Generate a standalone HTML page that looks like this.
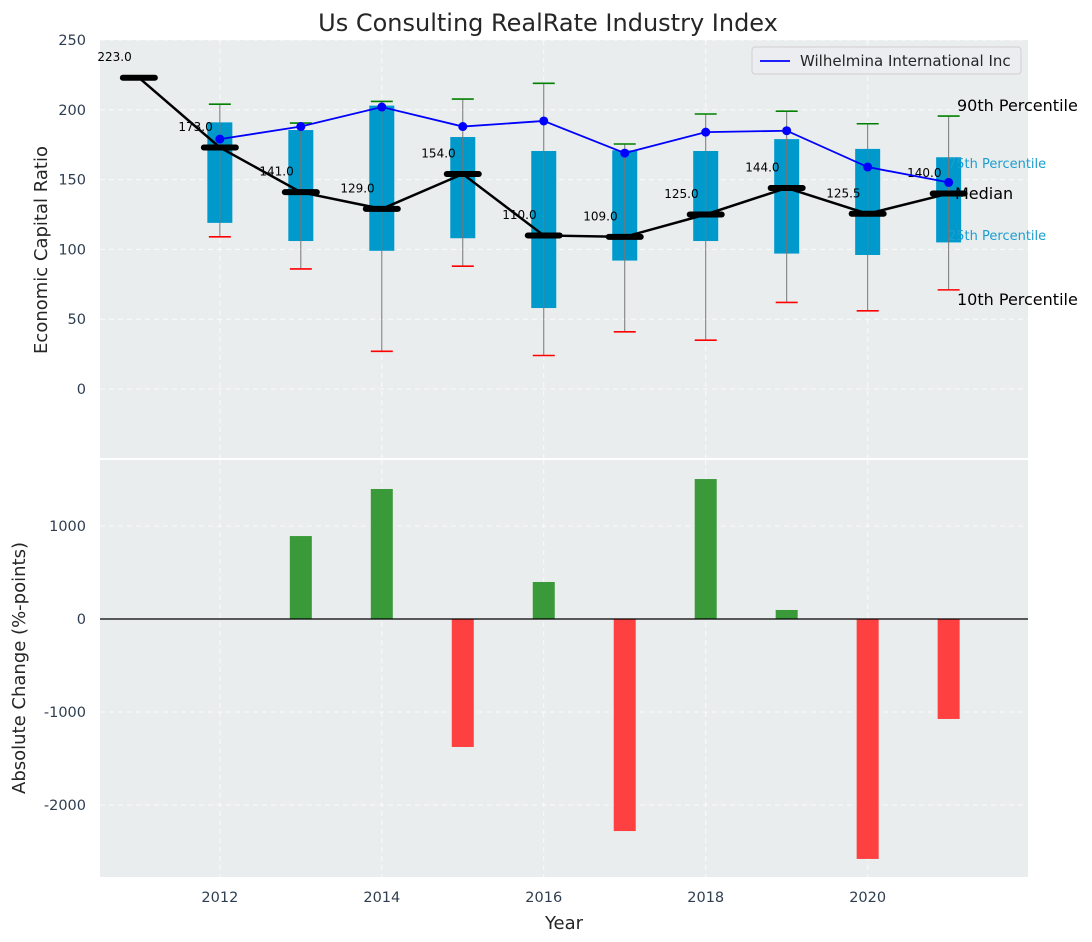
<!DOCTYPE html>
<html><head><meta charset="utf-8"><style>
body{margin:0;background:#fff}
svg{font-family:"DejaVu Sans","Liberation Sans",sans-serif;display:block}
</style></head><body>
<svg id="c" width="1092" height="942" viewBox="0 0 1092 942" xmlns="http://www.w3.org/2000/svg">
<rect width="1092" height="942" fill="#fff"/>
<text x="548" y="31" text-anchor="middle" font-size="24" fill="#262626">Us Consulting RealRate Industry Index</text>
<g id="gtop"></g><g id="gbot"></g>
</svg>
<script>
const years=[2011,2012,2013,2014,2015,2016,2017,2018,2019,2020,2021];
const medians=[223,173,141,129,154,110,109,125,144,125.5,140];
const q1=[null,119,106,99,108,58,92,106,97,96,105];
const q3=[null,191,185.5,203,180.5,170.5,171,170.5,179,172,166];
const p10=[null,109,86,27,88,24,41,35,62,56,71];
const p90=[null,204,190.5,206,207.7,219,175.5,197,199,190,195.5];
const company=[null,179,188,202,188,192,169,184,185,159,148];
const changeYears=[2013,2014,2015,2016,2017,2018,2019,2020,2021];
const changes=[892,1398,-1376,398,-2280,1505,97,-2580,-1075];
const xTicks=[2012,2014,2016,2018,2020];
const yTopTicks=[0,50,100,150,200,250];
const yBotTicks=[-2000,-1000,0,1000];

const NS="http://www.w3.org/2000/svg";
const L=100,R=1028;
const X=v=>L+(v-2010.52)/(2021.98-2010.52)*(R-L);
const T0=40,T1=458,Yt=v=>389-(v)*1.396;
const B0=460,B1=877,Yb=v=>619-v*0.093;
function mk(p,tag,a,txt){const e=document.createElementNS(NS,tag);for(const k in a)e.setAttribute(k,a[k]);if(txt!=null)e.textContent=txt;p.appendChild(e);return e;}
const gT=document.getElementById('gtop'),gB=document.getElementById('gbot');
let e;

e=mk(gT,'rect',{x:L,y:T0,width:R-L,height:T1-T0,fill:'#eaeded'});


e=mk(gB,'rect',{x:L,y:B0,width:R-L,height:B1-B0,fill:'#eaeded'});



xTicks.forEach(t=>{
 mk(gT,'line',{x1:X(t),x2:X(t),y1:T0,y2:T1,stroke:'#fff','stroke-dasharray':'5,4','stroke-width':1,opacity:0.8});
 mk(gB,'line',{x1:X(t),x2:X(t),y1:B0,y2:B1,stroke:'#fff','stroke-dasharray':'5,4','stroke-width':1,opacity:0.8});
 e=mk(gB,'text',{x:X(t),y:B1+25,'text-anchor':'middle','font-size':14.5,fill:'#2e3e50'},t);
 
 
});
yTopTicks.forEach(t=>{
 mk(gT,'line',{x1:L,x2:R,y1:Yt(t),y2:Yt(t),stroke:'#fff','stroke-dasharray':'5,4','stroke-width':1,opacity:0.8});
 e=mk(gT,'text',{x:L-14,y:Yt(t)+5,'text-anchor':'end','font-size':14.5,fill:'#2e3e50'},t);
 
 
});
yBotTicks.forEach(t=>{
 mk(gB,'line',{x1:L,x2:R,y1:Yb(t),y2:Yb(t),stroke:'#fff','stroke-dasharray':'5,4','stroke-width':1,opacity:0.8});
 e=mk(gB,'text',{x:L-14,y:Yb(t)+5,'text-anchor':'end','font-size':14.5,fill:'#2e3e50'},t);
 
 
});

years.forEach((y,i)=>{
 if(q1[i]==null)return;
 const cx=X(y);
 e=mk(gT,'rect',{x:cx-12.5,y:Yt(q3[i]),width:25,height:Yt(q1[i])-Yt(q3[i]),fill:'#0099cc'});
 
 
 mk(gT,'line',{x1:cx,x2:cx,y1:Yt(p10[i]),y2:Yt(p90[i]),stroke:'#777','stroke-width':1});
 mk(gT,'line',{x1:cx-11,x2:cx+11,y1:Yt(p90[i]),y2:Yt(p90[i]),stroke:'green','stroke-width':1.6});
 mk(gT,'line',{x1:cx-11,x2:cx+11,y1:Yt(p10[i]),y2:Yt(p10[i]),stroke:'red','stroke-width':1.6});
});
e=mk(gT,'polyline',{points:years.map((y,i)=>X(y)+','+Yt(medians[i])).join(' '),fill:'none',stroke:'#000','stroke-width':2.5});


years.forEach((y,i)=>{
 e=mk(gT,'line',{x1:X(y)-16,x2:X(y)+16,y1:Yt(medians[i]),y2:Yt(medians[i]),stroke:'#000','stroke-width':6,'stroke-linecap':'round'});
 
 
 e=mk(gT,'text',{x:X(y-0.3),y:Yt(medians[i]+14)+3,'text-anchor':'middle','font-size':12,fill:'#000'},medians[i].toFixed(1));
 
 
});
const cp=years.map((y,i)=>company[i]==null?null:[X(y),Yt(company[i])]).filter(p=>p);
e=mk(gT,'polyline',{points:cp.map(p=>p.join(',')).join(' '),fill:'none',stroke:'blue','stroke-width':1.8});


cp.forEach(p=>{
 e=mk(gT,'circle',{cx:p[0],cy:p[1],r:4.5,fill:'blue'});
 
 
});

[['90th Percentile',111,16,'#000',957],['75th Percentile',168,13,'#1a9fd0',948],['Median',199,16,'#000',955],['25th Percentile',240,13,'#1a9fd0',948],['10th Percentile',305,16,'#000',957]].forEach(d=>{
 e=mk(gT,'text',{x:d[4],y:d[1],'font-size':d[2],fill:d[3]},d[0]);
 
 
});

e=mk(gT,'rect',{x:752,y:47,width:269,height:27,rx:3,fill:'#ebedf0',stroke:'#d0d0d0'});


mk(gT,'line',{x1:760,x2:790,y1:61,y2:61,stroke:'blue','stroke-width':1.8});
e=mk(gT,'text',{x:800,y:66,'font-size':15,fill:'#262626'},'Wilhelmina International Inc');



changeYears.forEach((y,i)=>{
 const v=changes[i],y0=Yb(0),y1=Yb(v);
 e=mk(gB,'rect',{x:X(y)-11,y:Math.min(y0,y1),width:22,height:Math.abs(y1-y0),fill:v>=0?'#3a9a3a':'#ff4040'});
 
 
});
mk(gB,'line',{x1:L,x2:R,y1:Yb(0),y2:Yb(0),stroke:'#000','stroke-width':1.2});

e=mk(gB,'text',{x:564,y:929,'text-anchor':'middle','font-size':18,fill:'#262626'},'Year');


e=mk(gT,'text',{x:0,y:0,'text-anchor':'middle','font-size':18,fill:'#262626',transform:'translate(47,250) rotate(-90)'},'Economic Capital Ratio');


e=mk(gB,'text',{x:0,y:0,'text-anchor':'middle','font-size':18,fill:'#262626',transform:'translate(25,668) rotate(-90)'},'Absolute Change (%-points)');


</script>
</body></html>
